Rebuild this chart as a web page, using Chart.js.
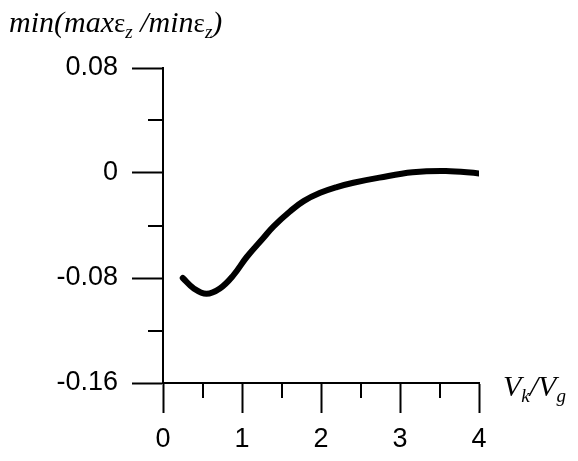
<!DOCTYPE html>
<html>
<head>
<meta charset="utf-8">
<script src="https://cdn.jsdelivr.net/npm/chart.js@4"></script>
<style>
  body { margin: 0; background: #fff; }
  #wrap { position: relative; width: 578px; height: 461px; }
  .lbl { position: absolute; font-family: "Liberation Serif", "Times New Roman", serif; font-style: italic; font-size: 30px; color: #000; white-space: nowrap; }
  .lbl sub { font-size: 19px; vertical-align: -6px; line-height: 0; }
  .lbl .eps { font-style: normal; font-size: 27px; }
</style>
</head>
<body>
<div id="wrap">
  <canvas id="myChart" width="578" height="461"></canvas>
  <div class="lbl" style="left:9px; top:5px;">min(max<span class="eps">&epsilon;</span><sub>z</sub> /min<span class="eps">&epsilon;</span><sub>z</sub>)</div>
  <div class="lbl" style="left:503px; top:369px;">V<sub>k</sub>/V<sub>g</sub></div>
</div>
<script>
// данные кривой (Vk/Vg и значение)
const vRatio = [0.25, 0.39, 0.55, 0.72, 0.89, 1.06, 1.27, 1.4, 1.61, 1.78, 1.99, 2.2, 2.41, 2.74, 3.16, 3.58, 4.0];
const ratioMin = [-0.080, -0.088, -0.092, -0.088, -0.078, -0.064, -0.0495, -0.0406, -0.0291, -0.0214, -0.0151, -0.0107, -0.0074, -0.0035, 0.0005, 0.0015, -0.0003];

// подписи делений
const xTickLabels = ['0', '1', '2', '3', '4'];
const yTickLabels = ['-0.16', '-0.08', '0', '0.08'];

const points = vRatio.map((v, i) => ({x: v, y: ratioMin[i]}));

const fontTicks = {family: 'Arial, "Liberation Sans", sans-serif', size: 27};

// мелкие деления рисуем сами
const minorTicks = {
  id: 'minorTicks',
  afterDraw(chart) {
    const c = chart.ctx;
    const xs = chart.scales.x, ys = chart.scales.y;
    const area = chart.chartArea;
    c.save();
    c.strokeStyle = '#000';
    c.lineWidth = 2;
    c.beginPath();
    [0.5, 1.5, 2.5, 3.5].forEach(v => {
      const px = Math.round(xs.getPixelForValue(v));
      c.moveTo(px, area.bottom);
      c.lineTo(px, area.bottom + 15);
    });
    [-0.12, -0.04, 0.04].forEach(v => {
      const py = Math.round(ys.getPixelForValue(v));
      c.moveTo(area.left, py);
      c.lineTo(area.left - 15, py);
    });
    c.stroke();
    c.restore();
  }
};

const ctx = document.getElementById('myChart').getContext('2d');
const chart = new Chart(ctx, {
  type: 'scatter',
  data: {
    datasets: [{
      data: points,
      showLine: true,
      borderColor: '#000',
      borderWidth: 6,
      borderCapStyle: 'round',
      borderJoinStyle: 'round',
      pointRadius: 0,
      tension: 0.4,
      fill: false,
    }],
  },
  options: {
    responsive: false,
    animation: false,
    layout: {padding: {top: 68, right: 99, left: 0, bottom: 0}},
    plugins: {legend: {display: false}, tooltip: {enabled: false}},
    scales: {
      x: {
        type: 'linear',
        min: 0,
        max: 4,
        afterFit: (s) => { s.height = 78; },
        afterBuildTicks: (s) => { s.ticks = xTickLabels.map(t => ({value: Number(t)})); },
        ticks: {
          color: '#000',
          font: fontTicks,
          padding: 10,
          maxRotation: 0,
          autoSkip: false,
          callback: (v) => String(v),
        },
        grid: {display: true, drawOnChartArea: false, drawTicks: true, tickLength: 30, tickWidth: 2, tickColor: '#000'},
        border: {display: true, color: '#000', width: 2},
      },
      y: {
        type: 'linear',
        min: -0.16,
        max: 0.08,
        afterFit: (s) => { s.width = 163; },
        afterBuildTicks: (s) => { s.ticks = yTickLabels.map(t => ({value: Number(t)})); },
        ticks: {
          color: '#000',
          font: fontTicks,
          padding: 14,
          autoSkip: false,
          callback: (v) => yTickLabels.find(t => Math.abs(Number(t) - v) < 1e-9),
        },
        grid: {display: true, drawOnChartArea: false, drawTicks: true, tickLength: 31, tickWidth: 2, tickColor: '#000'},
        border: {display: true, color: '#000', width: 2},
      },
    },
  },
  plugins: [minorTicks],
});
</script>
</body>
</html>
